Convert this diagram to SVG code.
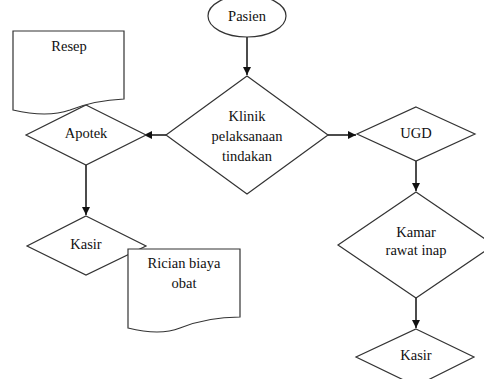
<svg xmlns="http://www.w3.org/2000/svg" width="484" height="379" viewBox="0 0 484 379">
<style>
.s{fill:#fff;stroke:#333;stroke-width:1.2}
.c{stroke:#111;stroke-width:1.5;fill:none}
text{font-family:"Liberation Serif","Times New Roman",serif;font-size:14.5px;fill:#111;text-anchor:middle}
</style>
<defs>
<marker id="a" viewBox="0 0 10 10" refX="10" refY="5" markerWidth="8" markerHeight="8" markerUnits="userSpaceOnUse" orient="auto">
<path d="M0,0 L10,5 L0,10 z" fill="#111"/>
</marker>
</defs>
<rect width="484" height="379" fill="#fff"/>
<g id="connectors">
<line class="c" x1="247" y1="37" x2="247" y2="75" marker-end="url(#a)"/>
<line class="c" x1="166" y1="135" x2="144" y2="135" marker-end="url(#a)"/>
<line class="c" x1="328" y1="135" x2="356" y2="135" marker-end="url(#a)"/>
<line class="c" x1="86" y1="165" x2="86" y2="215" marker-end="url(#a)"/>
<line class="c" x1="416" y1="161" x2="416" y2="191" marker-end="url(#a)"/>
<line class="c" x1="416" y1="298" x2="416" y2="328" marker-end="url(#a)"/>
</g>
<g id="pasien">
<ellipse class="s" cx="247" cy="16" rx="39" ry="21"/>
<text x="247" y="21">Pasien</text>
</g>
<g id="klinik">
<polygon class="s" points="247,76 328,135 247,194 166,135"/>
<text x="247" y="121">Klinik</text>
<text x="247" y="141">pelaksanaan</text>
<text x="247" y="161">tindakan</text>
</g>
<g id="apotek">
<polygon class="s" points="86,105 146,135 86,165 26,135"/>
<text x="86" y="138">Apotek</text>
</g>
<g id="resep">
<path class="s" d="M13,31 H124 V99 C100,100 85,104 70,110 C50,117 30,114 13,110 Z"/>
<text x="69" y="51">Resep</text>
</g>
<g id="kasir1">
<polygon class="s" points="86,216 146,246 86,275 27,246"/>
<text x="86" y="249">Kasir</text>
</g>
<g id="rician">
<path class="s" d="M128,249 H240 V317 C215,317 195,322 180,328 C165,334 148,333 128,328 Z"/>
<text x="184" y="268">Rician biaya</text>
<text x="184" y="288">obat</text>
</g>
<g id="ugd">
<polygon class="s" points="416,107 475,134 416,161 357,134"/>
<text x="416" y="138">UGD</text>
</g>
<g id="kamar">
<polygon class="s" points="416,192 494,245 416,298 338,245"/>
<text x="416" y="237">Kamar</text>
<text x="416" y="255">rawat inap</text>
</g>
<g id="kasir2">
<polygon class="s" points="416,329 474,357 416,386 356,357"/>
<text x="416" y="360">Kasir</text>
</g>
</svg>
